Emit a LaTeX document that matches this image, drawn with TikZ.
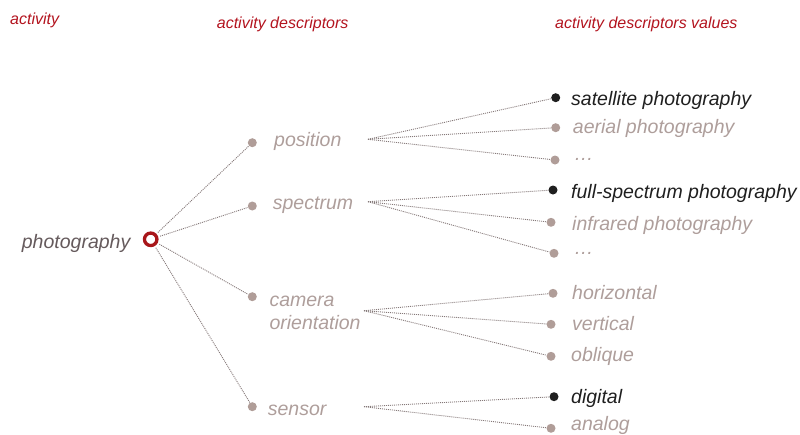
\documentclass[tikz,border=0pt]{standalone}
\usepackage{fontspec}
\setmainfont{Liberation Sans}
\definecolor{hdrred}{HTML}{B3141F}
\definecolor{ringred}{HTML}{A8161A}
\definecolor{maintext}{HTML}{655A5C}
\definecolor{softtext}{HTML}{AE9E9B}
\definecolor{softdot}{HTML}{B09D98}
\definecolor{darktext}{HTML}{1F1F1F}
\definecolor{linegray}{HTML}{857979}
\begin{document}
\begin{tikzpicture}[x=1pt,y=-1pt,
  hdr/.style={anchor=base west, inner sep=0pt, text=hdrred, font=\fontsize{16}{19}\selectfont\itshape},
  lbl/.style={anchor=base west, inner sep=0pt, text=softtext, font=\fontsize{19.5}{23}\selectfont\itshape},
  dlbl/.style={lbl, text=darktext},
  gdot/.style={circle, fill=softdot, inner sep=0pt, minimum size=9pt},
  bdot/.style={circle, fill=darktext, inner sep=0pt, minimum size=9pt},
  link/.style={draw=linegray, line width=0.9pt, dash pattern=on 1pt off 1pt}]
\useasboundingbox (0,0) rectangle (800,434);

% headers
\node[hdr] (h1) at (10,24) {activity};
\node[hdr] (h2) at (216.7,28.3) {activity descriptors};
\node[hdr] (h3) at (555,28.3) {activity descriptors values};

% root
\node[lbl, text=maintext] (troot) at (21.7,248.3) {photography};
\node[circle, draw=ringred, line width=3.3pt, inner sep=0pt, minimum size=12.5pt] (root) at (150.7,239.3) {};

% descriptors
\node[gdot] (dpos) at (252.3,142.7) {};
\node[gdot] (dspe) at (252.3,206) {};
\node[gdot] (dcam) at (252.3,296.7) {};
\node[gdot] (dsen) at (252.3,406.7) {};
\node[lbl] (tpos) at (274,146.7) {position};
\node[lbl] (tspe) at (272.7,209.3) {spectrum};
\node[lbl] (tcam) at (269.3,306) {camera};
\node[lbl] (tori) at (269.3,329) {orientation};
\node[lbl] (tsen) at (267.7,415) {sensor};

\foreach \d in {dpos,dspe,dcam,dsen}
  \draw[link, shorten <=2pt] (root) -- (\d);

% fan origins
\coordinate (fpos) at (368,139.3);
\coordinate (fspe) at (368,201.7);
\coordinate (fcam) at (364,310.7);
\coordinate (fsen) at (364,406.7);

% values
\node[bdot] (v1) at (555.7,97.7) {};
\node[gdot] (v2) at (555.7,127.7) {};
\node[gdot] (v3) at (555,160) {};
\node[bdot] (v4) at (553,190) {};
\node[gdot] (v5) at (551,222.3) {};
\node[gdot] (v6) at (554,253.3) {};
\node[gdot] (v7) at (553,293.3) {};
\node[gdot] (v8) at (551,324.3) {};
\node[gdot] (v9) at (551,356.3) {};
\node[bdot] (v10) at (554,396.7) {};
\node[gdot] (v11) at (551,428.3) {};

\node[dlbl] (w1) at (571,105) {satellite photography};
\node[lbl] (w2) at (572.7,133.3) {aerial photography};
\node[lbl] (w3) at (574,160) {\dots};
\node[dlbl] (w4) at (571,198.3) {full-spectrum photography};
\node[lbl] (w5) at (572,230) {infrared photography};
\node[lbl] (w6) at (574,254) {\dots};
\node[lbl] (w7) at (572,299.3) {horizontal};
\node[lbl] (w8) at (572,330) {vertical};
\node[lbl] (w9) at (571,361.7) {oblique};
\node[dlbl] (w10) at (571,403.3) {digital};
\node[lbl] (w11) at (571,430.7) {analog};

\foreach \v in {v1,v2,v3} \draw[link] (fpos) -- (\v);
\foreach \v in {v4,v5,v6} \draw[link] (fspe) -- (\v);
\foreach \v in {v7,v8,v9} \draw[link] (fcam) -- (\v);
\foreach \v in {v10,v11} \draw[link] (fsen) -- (\v);
\end{tikzpicture}
\end{document}
